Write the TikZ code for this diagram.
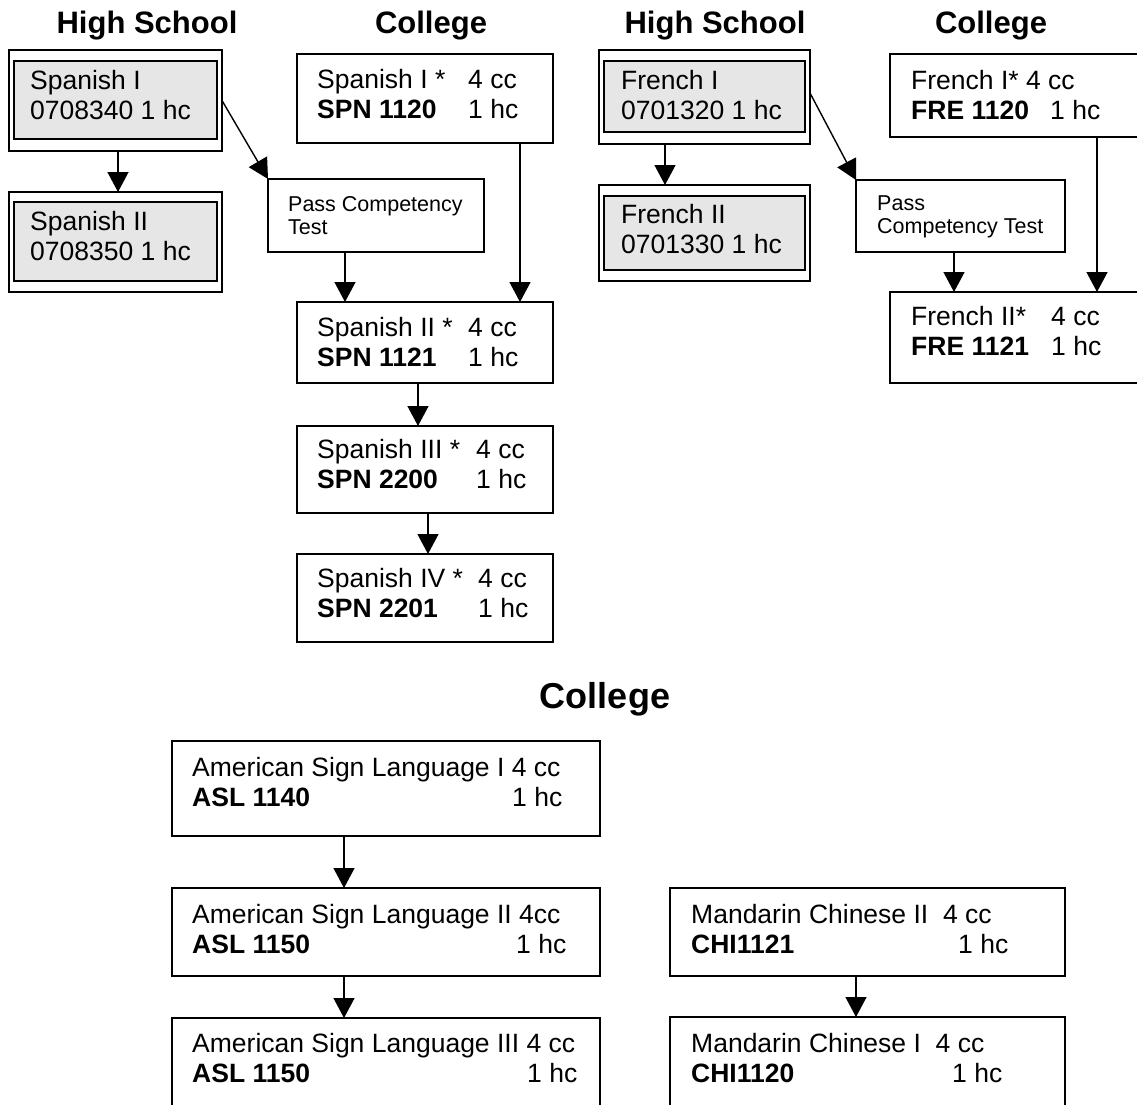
\documentclass[tikz,border=0pt]{standalone}
\usepackage{fontspec}
\setmainfont{Liberation Sans}
\usetikzlibrary{arrows.meta}
\definecolor{hsgray}{HTML}{E6E6E6}
\newcommand\crs[3]{\begin{tabular}[t]{@{}p{#1pt}@{}l@{}}#2\\#3\end{tabular}}
\newcommand\onecol[2]{\begin{tabular}[t]{@{}l@{}}#1\\#2\end{tabular}}
\begin{document}
\begin{tikzpicture}[x=1pt,y=-1pt,
  box/.style={draw, line width=1.5pt, anchor=north west, inner sep=0pt, outer sep=0pt},
  inbox/.style={draw, line width=2.2pt, fill=hsgray, anchor=north west, inner sep=0pt, outer sep=0pt},
  txt/.style={anchor=base west, inner sep=0pt, font=\fontsize{26.5}{30}\selectfont},
  smalltxt/.style={anchor=base west, inner sep=0pt, font=\fontsize{21.5}{23.5}\selectfont},
  ttl/.style={anchor=base, inner sep=0pt, font=\fontsize{31}{36}\selectfont\bfseries},
  arr/.style={line width=1.4pt, -{Triangle[length=20pt,width=21pt]}}]
\useasboundingbox (0,0) rectangle (1137,1104);
\clip (0,0) rectangle (1137,1104);
\fill[white] (0,0) rectangle (1137,1104);

% titles
\node[ttl] (t1) at (147,33) {High School};
\node[ttl] (t2) at (431,33) {College};
\node[ttl] (t3) at (715,33) {High School};
\node[ttl] (t4) at (991,33) {College};
\node[ttl, font=\fontsize{36}{40}\selectfont\bfseries] (t5) at (605,708) {College};

% Spanish high school
\node[box, minimum width=213pt, minimum height=101pt] (spHS1o) at (9,50) {};
\node[inbox, minimum width=203pt, minimum height=78pt] (spHS1) at (14,61) {};
\node[txt] (spHS1t) at (30,89) {\onecol{Spanish I}{0708340 1 hc}};
\node[box, minimum width=213pt, minimum height=100pt] (spHS2o) at (9,192) {};
\node[inbox, minimum width=203pt, minimum height=79pt] (spHS2) at (14,202) {};
\node[txt] (spHS2t) at (30,230) {\onecol{Spanish II}{0708350 1 hc}};

% Spanish college
\node[box, minimum width=256pt, minimum height=89pt] (spC1) at (297,54) {};
\node[txt] (spC1t) at (317,88) {\crs{151}{Spanish I * & 4 cc}{\textbf{SPN 1120} & 1 hc}};
\node[box, minimum width=216pt, minimum height=73pt] (spPCT) at (268,179) {};
\node[smalltxt] (spPCTt) at (288,211) {\onecol{Pass Competency}{Test}};
\node[box, minimum width=256pt, minimum height=81pt] (spC2) at (297,302) {};
\node[txt] (spC2t) at (317,336) {\crs{151}{Spanish II * & 4 cc}{\textbf{SPN 1121} & 1 hc}};
\node[box, minimum width=256pt, minimum height=87pt] (spC3) at (297,426) {};
\node[txt] (spC3t) at (317,458) {\crs{159}{Spanish III * & 4 cc}{\textbf{SPN 2200} & 1 hc}};
\node[box, minimum width=256pt, minimum height=88pt] (spC4) at (297,554) {};
\node[txt] (spC4t) at (317,587) {\crs{161}{Spanish IV * & 4 cc}{\textbf{SPN 2201} & 1 hc}};

% French high school
\node[box, minimum width=211pt, minimum height=94pt] (frHS1o) at (599,50) {};
\node[inbox, minimum width=201pt, minimum height=71pt] (frHS1) at (604,61) {};
\node[txt] (frHS1t) at (621,89) {\onecol{French I}{0701320 1 hc}};
\node[box, minimum width=211pt, minimum height=96pt] (frHS2o) at (599,185) {};
\node[inbox, minimum width=201pt, minimum height=74pt] (frHS2) at (604,196) {};
\node[txt] (frHS2t) at (621,223) {\onecol{French II}{0701330 1 hc}};

% French college
\node[box, minimum width=260pt, minimum height=83pt] (frC1) at (890,54) {};
\node[txt] (frC1t) at (911,89) {\crs{139}{\multicolumn{2}{@{}l@{}}{French I* 4 cc}}{\textbf{FRE 1120} & 1 hc}};
\node[box, minimum width=209pt, minimum height=72pt] (frPCT) at (856,180) {};
\node[smalltxt] (frPCTt) at (877,210) {\onecol{Pass}{Competency Test}};
\node[box, minimum width=260pt, minimum height=91pt] (frC2) at (890,292) {};
\node[txt] (frC2t) at (911,325) {\crs{140}{French II* & 4 cc}{\textbf{FRE 1121} & 1 hc}};

% ASL
\node[box, minimum width=428pt, minimum height=95pt] (asl1) at (172,741) {};
\node[txt] (asl1t) at (192,776) {\crs{320}{\multicolumn{2}{@{}l@{}}{American Sign Language I 4 cc}}{\textbf{ASL 1140} & 1 hc}};
\node[box, minimum width=428pt, minimum height=88pt] (asl2) at (172,888) {};
\node[txt] (asl2t) at (192,923) {\crs{324}{\multicolumn{2}{@{}l@{}}{American Sign Language II 4cc}}{\textbf{ASL 1150} & 1 hc}};
\node[box, minimum width=428pt, minimum height=97pt] (asl3) at (172,1018) {};
\node[txt] (asl3t) at (192,1052) {\crs{335}{\multicolumn{2}{@{}l@{}}{American Sign Language III 4 cc}}{\textbf{ASL 1150} & 1 hc}};

% Mandarin
\node[box, minimum width=395pt, minimum height=88pt] (man2) at (670,888) {};
\node[txt] (man2t) at (691,923) {\crs{267}{\multicolumn{2}{@{}l@{}}{Mandarin Chinese II\ \ 4 cc}}{\textbf{CHI1121} & 1 hc}};
\node[box, minimum width=395pt, minimum height=98pt] (man1) at (670,1017) {};
\node[txt] (man1t) at (691,1052) {\crs{261}{\multicolumn{2}{@{}l@{}}{Mandarin Chinese I\ \ 4 cc}}{\textbf{CHI1120} & 1 hc}};

% connector columns
\coordinate (xa) at (118,0);
\coordinate (xb) at (345,0);
\coordinate (xc) at (520,0);
\coordinate (xd) at (418,0);
\coordinate (xe) at (428,0);
\coordinate (xf) at (665,0);
\coordinate (xg) at (954,0);
\coordinate (xh) at (1097,0);
\coordinate (xi) at (344,0);
\coordinate (xj) at (856,0);

% connectors
\draw[arr] (spHS1o.south -| xa) -- (spHS2o.north -| xa);
\draw[arr] (spHS1o.east) -- (spPCT.north west);
\draw[arr] (spPCT.south -| xb) -- (spC2.north -| xb);
\draw[arr] (spC1.south -| xc) -- (spC2.north -| xc);
\draw[arr] (spC2.south -| xd) -- (spC3.north -| xd);
\draw[arr] (spC3.south -| xe) -- (spC4.north -| xe);
\draw[arr] (frHS1o.south -| xf) -- (frHS2o.north -| xf);
\draw[arr] ([yshift=4pt]frHS1o.east) -- (frPCT.north west);
\draw[arr] (frPCT.south -| xg) -- (frC2.north -| xg);
\draw[arr] (frC1.south -| xh) -- (frC2.north -| xh);
\draw[arr] (asl1.south -| xi) -- (asl2.north -| xi);
\draw[arr] (asl2.south -| xi) -- (asl3.north -| xi);
\draw[arr] (man2.south -| xj) -- (man1.north -| xj);
\end{tikzpicture}
\end{document}
